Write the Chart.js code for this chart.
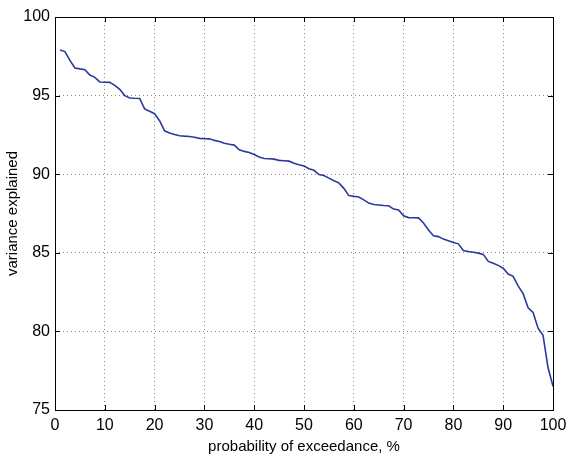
<!DOCTYPE html>
<html>
<head>
<meta charset="utf-8">
<script src="https://cdn.jsdelivr.net/npm/chart.js@4/dist/chart.umd.min.js"></script>
<style>
  html, body { margin: 0; padding: 0; background: #fff; }
</style>
</head>
<body>
<canvas id="chart" width="569" height="464"></canvas>
<script>
// probability of exceedance (%) and variance explained
var exceedance = [];
for (var i = 1; i <= 100; i++) exceedance.push(i);

var variance = [
  97.90, 97.80, 97.24, 96.76, 96.70, 96.65, 96.31, 96.16, 95.87, 95.85,
  95.84, 95.65, 95.40, 95.00, 94.85, 94.83, 94.82, 94.15, 94.00, 93.85,
  93.40, 92.76, 92.62, 92.52, 92.45, 92.42, 92.40, 92.35, 92.28, 92.26,
  92.25, 92.15, 92.08, 91.97, 91.90, 91.85, 91.55, 91.45, 91.38, 91.25,
  91.10, 91.00, 90.98, 90.96, 90.88, 90.86, 90.83, 90.70, 90.60, 90.52,
  90.35, 90.25, 89.98, 89.92, 89.75, 89.58, 89.45, 89.10, 88.64, 88.60,
  88.55, 88.37, 88.16, 88.07, 88.04, 88.01, 87.99, 87.78, 87.73, 87.35,
  87.24, 87.23, 87.22, 86.90, 86.45, 86.08, 86.03, 85.87, 85.77, 85.65,
  85.57, 85.14, 85.08, 85.03, 84.98, 84.90, 84.45, 84.33, 84.20, 84.02,
  83.65, 83.50, 82.90, 82.40, 81.50, 81.20, 80.20, 79.75, 77.70, 76.50
];

var xTicks = [0, 10, 20, 30, 40, 50, 60, 70, 80, 90, 100];
var yTicks = [75, 80, 85, 90, 95, 100];

var points = exceedance.map(function (x, i) { return { x: x, y: variance[i] }; });

var FAMILY = "'Liberation Sans', Arial, Helvetica, sans-serif";
var TICKFONT = { family: FAMILY, size: 16 };
var TITLEFONT = { family: FAMILY, size: 15 };

// matlab-like box with inward tick marks
var boxPlugin = {
  id: 'box',
  afterDraw: function (chart) {
    var ctx = chart.ctx, a = chart.chartArea;
    var xs = chart.scales.x, ys = chart.scales.y;
    var len = 5;
    ctx.save();
    ctx.strokeStyle = '#000';
    ctx.lineWidth = 1;
    ctx.beginPath();
    xTicks.forEach(function (v) {
      var px = Math.round(xs.getPixelForValue(v)) + 0.5;
      ctx.moveTo(px, a.bottom); ctx.lineTo(px, a.bottom - len);
      ctx.moveTo(px, a.top); ctx.lineTo(px, a.top + len);
    });
    yTicks.forEach(function (v) {
      var py = Math.round(ys.getPixelForValue(v)) + 0.5;
      ctx.moveTo(a.left, py); ctx.lineTo(a.left + len, py);
      ctx.moveTo(a.right, py); ctx.lineTo(a.right - len, py);
    });
    ctx.stroke();
    ctx.strokeRect(Math.round(a.left) + 0.5, Math.round(a.top) + 0.5,
      Math.round(a.right - a.left), Math.round(a.bottom - a.top));
    ctx.restore();
  }
};

new Chart(document.getElementById('chart'), {
  type: 'line',
  data: {
    datasets: [{
      data: points,
      borderColor: '#2b399d',
      borderWidth: 1.6,
      pointRadius: 0,
      tension: 0,
      fill: false
    }]
  },
  options: {
    responsive: false,
    animation: false,
    devicePixelRatio: 1,
    layout: { padding: { top: 17, right: 16, left: 0, bottom: 0 } },
    plugins: { legend: { display: false }, tooltip: { enabled: false } },
    scales: {
      x: {
        type: 'linear',
        min: 0, max: 100,
        afterBuildTicks: function (s) { s.ticks = xTicks.map(function (v) { return { value: v }; }); },
        afterFit: function (s) { s.height = 54; s.paddingLeft = 0; s.paddingRight = 0; },
        grid: { color: '#8a8a8a', borderDash: [1, 3], drawTicks: false, lineWidth: 1 },
        border: { display: false, dash: [1, 3] },
        ticks: { color: '#000', font: TICKFONT, padding: 6, maxRotation: 0 },
        title: { display: true, text: 'probability of exceedance, %', color: '#000', font: TITLEFONT, padding: { top: 0, bottom: 8 } }
      },
      y: {
        type: 'linear',
        min: 75, max: 100,
        afterBuildTicks: function (s) { s.ticks = yTicks.map(function (v) { return { value: v }; }); },
        afterFit: function (s) { s.width = 55; s.paddingTop = 0; s.paddingBottom = 0; },
        grid: { color: '#8a8a8a', borderDash: [1, 3], drawTicks: false, lineWidth: 1 },
        border: { display: false, dash: [1, 3] },
        ticks: { color: '#000', font: TICKFONT, padding: 5 },
        title: { display: true, text: 'variance explained', color: '#000', font: TITLEFONT, padding: { top: 4, bottom: 0 } }
      }
    }
  },
  plugins: [boxPlugin]
});
</script>
</body>
</html>
